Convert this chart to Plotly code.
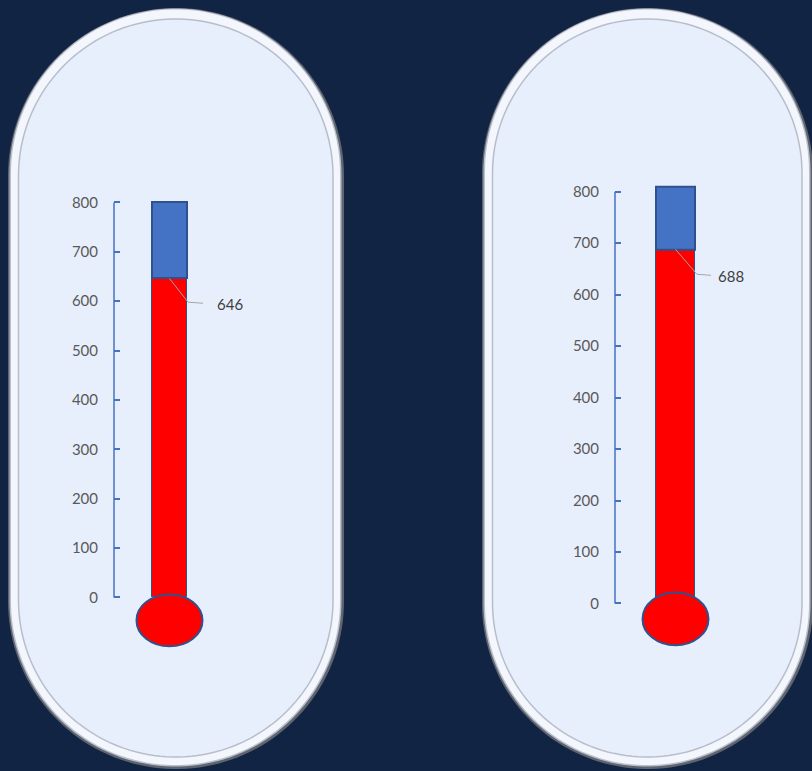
import numpy as np
import plotly.graph_objects as go

# ---------------- data ----------------
gauge_values = [646, 688]          # red fill (current value)
gauge_maximum = [800, 810]         # top of the blue part
tick_values = [0, 100, 200, 300, 400, 500, 600, 700, 800]
tick_labels = [str(v) for v in tick_values]

# ---------------- styling / layout constants (pixels) ----------------
W, H = 812, 771
BG = "#112443"
RED = "#ff0000"
BLUE = "#4472c4"
EDGE = "#2f528f"
AXIS = "#4472c4"
TXT = "#595959"
FONT = "Lato"

def px2x(px):
    return px / W

def py2y(py):
    return 1 - py / H

# per-panel geometry in pixels
panels = [
    dict(axis_px=114, right_px=250, bar_c=169.5, bar_w=35, zero_py=597, ppu=0.495,
         ymin=-110, ymax=815, caps=(8, 6, 344, 769),
         bulb=(0.0, -46.5, 0.943, 52.5),
         leader=[(0.0, 0), (0.53, -48), (0.96, -50)], label=(1.72, -52)),
    dict(axis_px=615, right_px=760, bar_c=675.5, bar_w=39, zero_py=603, ppu=0.516,
         ymin=-110, ymax=825, caps=(482, 6, 813, 769),
         bulb=(0.0, -30.0, 0.846, 51.4),
         leader=[(0.0, 0), (0.55, -48.5), (0.91, -50.4)], label=(1.42, -52)),
]


def capsule_path(x0, y0, x1, y1, n=80):
    """Capsule (stadium) outline in paper coords from pixel box."""
    r = (x1 - x0) / 2.0
    cx = (x0 + x1) / 2.0
    top_c = y0 + r
    bot_c = y1 - r
    pts = []
    for a in np.linspace(np.pi, 0, n):
        pts.append((cx + r * np.cos(a), top_c - r * np.sin(a)))
    for a in np.linspace(0, -np.pi, n):
        pts.append((cx + r * np.cos(a), bot_c - r * np.sin(a)))
    s = "M " + " L ".join(f"{px2x(x):.5f},{py2y(y):.5f}" for x, y in pts) + " Z"
    return s


fig = go.Figure()
shapes = []
annotations = []

for i, p in enumerate(panels):
    sfx = "" if i == 0 else str(i + 1)
    xa = "x" + sfx
    ya = "y" + sfx

    # capsule decoration
    x0, y0, x1, y1 = p["caps"]
    shapes.append(dict(type="path", xref="paper", yref="paper", layer="below",
                       path=capsule_path(x0, y0, x1, y1),
                       fillcolor="#5f6570", line=dict(width=0)))
    shapes.append(dict(type="path", xref="paper", yref="paper", layer="below",
                       path=capsule_path(x0 + 1.5, y0 + 0.5, x1 - 2.5, y1 - 2.5),
                       fillcolor="#b9bfca", line=dict(width=0)))
    shapes.append(dict(type="path", xref="paper", yref="paper", layer="below",
                       path=capsule_path(x0 + 3, y0 + 1.5, x1 - 4, y1 - 4),
                       fillcolor="#f3f6fc", line=dict(width=0)))
    shapes.append(dict(type="path", xref="paper", yref="paper", layer="below",
                       path=capsule_path(x0 + 10.5, y0 + 11, x1 - 11, y1 - 12),
                       fillcolor="#e8effc", line=dict(color="#b7bec9", width=1.5)))

    # axes
    unit = p["bar_w"]
    xr = [(p["axis_px"] - p["bar_c"]) / unit, (p["right_px"] - p["bar_c"]) / unit]
    bottom_py = p["zero_py"] - p["ymin"] * p["ppu"]
    top_py = p["zero_py"] - p["ymax"] * p["ppu"]
    fig.update_layout(**{
        ("xaxis" + sfx): dict(domain=[px2x(p["axis_px"]), px2x(p["right_px"])],
                              range=xr, visible=False, anchor=ya, fixedrange=True),
        ("yaxis" + sfx): dict(domain=[py2y(bottom_py), py2y(top_py)],
                              range=[p["ymin"], p["ymax"]], anchor=xa,
                              tickvals=tick_values, ticktext=tick_labels,
                              ticks="inside", ticklen=6, tickwidth=1.5, tickcolor=AXIS,
                              showline=False, showgrid=False, zeroline=False,
                              ticklabelstandoff=15,
                              tickfont=dict(family=FONT, size=15, color=TXT),
                              fixedrange=True),
    })
    shapes.append(dict(type="line", xref=xa + " domain", yref=ya,
                       x0=0, x1=0, y0=tick_values[0], y1=tick_values[-1],
                       line=dict(color=AXIS, width=1.5), layer="above"))

    val = gauge_values[i]
    mx = gauge_maximum[i]
    fig.add_trace(go.Bar(x=[0], y=[val], width=1, marker=dict(color=RED, line=dict(color=EDGE, width=1)),
                         xaxis=xa, yaxis=ya, showlegend=False, hoverinfo="skip"))
    fig.add_trace(go.Bar(x=[0], y=[mx - val], base=[val], width=1,
                         marker=dict(color=BLUE, line=dict(color=EDGE, width=2)),
                         xaxis=xa, yaxis=ya, showlegend=False, hoverinfo="skip"))

    # bulb
    bx, by, brx, bry = p["bulb"]
    shapes.append(dict(type="circle", xref=xa, yref=ya, layer="above",
                       x0=bx - brx, x1=bx + brx, y0=by - bry, y1=by + bry,
                       fillcolor=RED, line=dict(color=EDGE, width=2)))

    # leader line + label
    pts = [(lx, val + ly) for lx, ly in p["leader"]]
    shapes.append(dict(type="path", xref=xa, yref=ya, layer="above",
                       path="M " + " L ".join(f"{x},{y}" for x, y in pts),
                       line=dict(color="#a6a6a6", width=1)))
    lx, ly = p["label"]
    annotations.append(dict(x=lx, y=val + ly, xref=xa, yref=ya, text=str(val),
                            showarrow=False, font=dict(family=FONT, size=15, color="#404040")))

fig.update_layout(
    width=W, height=H, margin=dict(l=0, r=0, t=0, b=0),
    paper_bgcolor=BG, plot_bgcolor="rgba(0,0,0,0)",
    barmode="overlay", bargap=0,
    shapes=shapes, annotations=annotations, showlegend=False,
)

fig.write_html(
    "out.html",
    config={"displayModeBar": False},
    post_script=("document.body.style.margin='0';document.body.style.padding='0';"
                 "document.body.style.background='#112443';"
                 "document.documentElement.style.overflow='hidden';"),
)
